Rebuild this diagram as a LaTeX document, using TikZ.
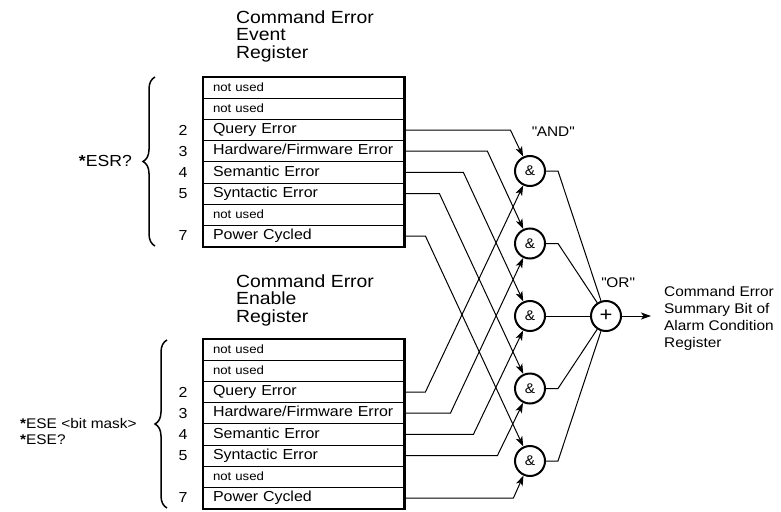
\documentclass[tikz,border=0pt]{standalone}
\usepackage{fontspec}
\setmainfont{Liberation Sans}[FakeStretch=1.1]
\usetikzlibrary{arrows.meta,decorations.pathreplacing,calc}
\newcommand\straightq{\XeTeXglyph\XeTeXcharglyph"22\relax}
\begin{document}
\begin{tikzpicture}[x=1pt,y=-1pt,
  regrow/.style={draw, line width=0.8pt, rectangle, minimum width=201pt, minimum height=21.2pt,
    inner xsep=10pt, inner ysep=0pt, text width=181pt, align=left,
    text height=10.5pt, text depth=3pt, font=\fontsize{14.5}{17}\selectfont},
  unused/.style={regrow, font=\fontsize{12}{15}\selectfont},
  frame/.style={line width=2.2pt},
  num/.style={font=\fontsize{14.5}{17}\selectfont, inner sep=0pt},
  gate/.style={circle, draw, line width=2pt, minimum size=30pt, inner sep=0pt, font=\fontsize{14}{17}\selectfont},
  wire/.style={line width=1pt},
  arr/.style={wire, -{Stealth[length=10pt,width=7pt,inset=2.5pt]}},
  title/.style={align=left, inner sep=0pt, font=\fontsize{17.6}{17.5}\selectfont},
  lbl/.style={inner sep=0pt, font=\fontsize{14}{17}\selectfont},
  bracestyle/.style={line width=1.5pt, decorate, decoration={brace, amplitude=12pt}}
]
\useasboundingbox (0,0) rectangle (781,511);

% ---------- top register ----------
\node[title, anchor=west] (ttitle) at (236,36) {Command Error\\Event\\Register};
\node[unused] (t0) at (303.5,87.6) {not used};
\node[unused] (t1) at (303.5,108.8) {not used};
\node[regrow] (t2) at (303.5,130.0) {Query Error};
\node[regrow] (t3) at (303.5,151.2) {Hardware/Firmware Error};
\node[regrow] (t4) at (303.5,172.4) {Semantic Error};
\node[regrow] (t5) at (303.5,193.6) {Syntactic Error};
\node[unused] (t6) at (303.5,214.8) {not used};
\node[regrow] (t7) at (303.5,236.0) {Power Cycled};
\draw[frame] (t0.north west) rectangle (t7.south east);
\node[num] (tn2) at (183,130.0) {2};
\node[num] (tn3) at (183,151.2) {3};
\node[num] (tn4) at (183,172.4) {4};
\node[num] (tn5) at (183,193.6) {5};
\node[num] (tn7) at (183,236.0) {7};
\draw[bracestyle] (155,246) -- (155,77);
\node[lbl, anchor=east, font=\fontsize{16}{18}\selectfont] (esr) at (132,161) {{\bfseries*}ESR?};

% ---------- bottom register ----------
\node[title, anchor=west] (btitle) at (236,300) {Command Error\\Enable\\Register};
\node[unused] (b0) at (303.5,349.6) {not used};
\node[unused] (b1) at (303.5,370.8) {not used};
\node[regrow] (b2) at (303.5,392.0) {Query Error};
\node[regrow] (b3) at (303.5,413.2) {Hardware/Firmware Error};
\node[regrow] (b4) at (303.5,434.4) {Semantic Error};
\node[regrow] (b5) at (303.5,455.6) {Syntactic Error};
\node[unused] (b6) at (303.5,476.8) {not used};
\node[regrow] (b7) at (303.5,498.0) {Power Cycled};
\draw[frame] (b0.north west) rectangle (b7.south east);
\node[num] (bn2) at (183,392.0) {2};
\node[num] (bn3) at (183,413.2) {3};
\node[num] (bn4) at (183,434.4) {4};
\node[num] (bn5) at (183,455.6) {5};
\node[num] (bn7) at (183,498.0) {7};
\draw[bracestyle] (167,508) -- (167,340);
\node[lbl, anchor=west, align=left, font=\fontsize{14}{16}\selectfont] (ese) at (20,431) {{\bfseries*}ESE <bit mask>\\{\bfseries*}ESE?};

% ---------- gates ----------
\node[gate] (a1) at (530,171) {\&};
\node[gate] (a2) at (530,243.5) {\&};
\node[gate] (a3) at (530,316) {\&};
\node[gate] (a4) at (530,388.5) {\&};
\node[gate] (a5) at (530,461) {\&};
\node[gate, font=\fontsize{20}{20}\selectfont] (or) at (606,316) {+};
\node[lbl] (andl) at (553,132) {\straightq AND\straightq};
\node[lbl] (orl) at (618,283) {\straightq OR\straightq};

% ---------- connectors into AND gates ----------
\draw[arr] (t2.east) -- ++(106,0) -- (a1);
\draw[arr] (t3.east) -- ++(83,0) -- (a2);
\draw[arr] (t4.east) -- ++(59,0) -- (a3);
\draw[arr] (t5.east) -- ++(35,0) -- (a4);
\draw[arr] (t7.east) -- ++(21,0) -- (a5);
\draw[arr] (b2.east) -- ++(21,0) -- (a1);
\draw[arr] (b3.east) -- ++(46,0) -- (a2);
\draw[arr] (b4.east) -- ++(69,0) -- (a3);
\draw[arr] (b5.east) -- ++(93,0) -- (a4);
\draw[arr] (b7.east) -- ++(109,0) -- (a5);

% ---------- AND outputs to OR ----------
\draw[wire] (a1.east) -- ++(12,0) -- (or);
\draw[wire] (a2.east) -- ++(12,0) -- (or);
\draw[wire] (a3) -- (or);
\draw[wire] (a4.east) -- ++(12,0) -- (or);
\draw[wire] (a5.east) -- ++(12,0) -- (or);

% ---------- output ----------
\coordinate (out) at (651,316);
\draw[arr] (or) -- (out);
\node[lbl, anchor=west, align=left] (res) at (664,318) {Command Error\\Summary Bit of\\Alarm Condition\\Register};
\end{tikzpicture}
\end{document}
